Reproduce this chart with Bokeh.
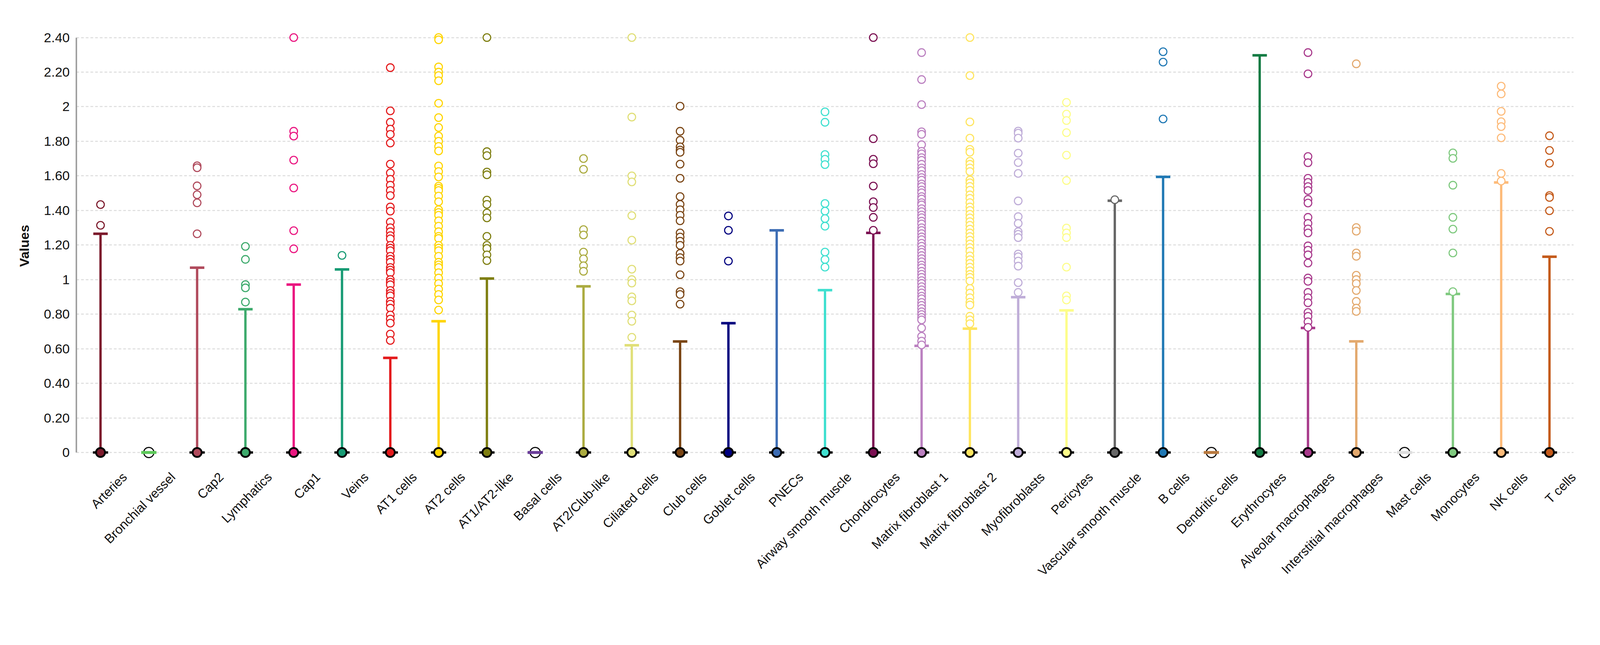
import math
from bokeh.plotting import figure
from bokeh.models import Range1d, FixedTicker, LinearAxis, ColumnDataSource
from bokeh.embed import file_html
from bokeh.resources import INLINE

categories = ["Arteries", "Bronchial vessel", "Cap2", "Lymphatics", "Cap1", "Veins",
              "AT1 cells", "AT2 cells", "AT1/AT2-like", "Basal cells", "AT2/Club-like",
              "Ciliated cells", "Club cells", "Goblet cells", "PNECs", "Airway smooth muscle",
              "Chondrocytes", "Matrix fibroblast 1", "Matrix fibroblast 2", "Myofibroblasts",
              "Pericytes", "Vascular smooth muscle", "B cells", "Dendritic cells", "Erythrocytes",
              "Alveolar macrophages", "Interstitial macrophages", "Mast cells", "Monocytes",
              "NK cells", "T cells"]

colors = ["#7c1a2c", "#5dc95a", "#b04a5c", "#3daa6c", "#ea1680", "#179b74",
          "#e41a1c", "#ffd500", "#7e7e10", "#6a3d9a", "#abab40",
          "#e0df78", "#7a4514", "#00007f", "#3d6db4", "#40e0d0",
          "#7b1052", "#bb80c0", "#ffe560", "#bfadd8",
          "#fdfd8a", "#666666", "#1f78b4", "#b8793e", "#137b43",
          "#a8398b", "#e3a96e", "#dddddd", "#7fc97f",
          "#fdbb7a", "#c45a1a"]

upper_whisker = [1.265, 0.0, 1.069, 0.829, 0.971, 1.059,
                 0.547, 0.759, 1.006, 0.0, 0.961,
                 0.620, 0.642, 0.748, 1.285, 0.939,
                 1.270, 0.617, 0.716, 0.898,
                 0.822, 1.456, 1.594, 0.0, 2.297,
                 0.720, 0.643, 0.0, 0.917,
                 1.562, 1.132]

out_arteries = [1.434, 1.314]
out_bronchial = []
out_cap2 = [1.658, 1.647, 1.542, 1.491, 1.444, 1.265]
out_lymphatics = [1.192, 1.117, 0.971, 0.952, 0.870]
out_cap1 = [2.40, 1.858, 1.830, 1.691, 1.530, 1.283, 1.178]
out_veins = [1.140]
out_at1 = [2.226, 1.976, 1.910, 1.870, 1.840, 1.790, 1.668, 1.617, 1.580, 1.546, 1.515,
           1.486, 1.420, 1.396, 1.333, 1.300, 1.277, 1.254, 1.236, 1.198, 1.182, 1.167,
           1.135, 1.118, 1.100, 1.070, 1.055, 1.040, 1.000, 0.985, 0.970, 0.937, 0.920,
           0.906, 0.874, 0.858, 0.835, 0.795, 0.772, 0.748, 0.685, 0.648]
out_at2 = [2.400, 2.387, 2.230, 2.200, 2.180, 2.150, 2.020, 1.937, 1.880, 1.830, 1.800,
           1.770, 1.744, 1.657, 1.625, 1.594, 1.540, 1.528, 1.515, 1.483, 1.450, 1.404,
           1.388, 1.372, 1.340, 1.309, 1.277, 1.250, 1.238, 1.198, 1.182, 1.167, 1.135,
           1.100, 1.085, 1.070, 1.040, 1.009, 0.977, 0.945, 0.914, 0.882, 0.824]
out_at1at2 = [2.400, 1.740, 1.717, 1.622, 1.606, 1.460, 1.435, 1.385, 1.357, 1.250,
              1.198, 1.180, 1.143, 1.110]
out_basal = []
out_at2club = [1.700, 1.638, 1.289, 1.258, 1.159, 1.120, 1.080, 1.048]
out_ciliated = [2.400, 1.940, 1.600, 1.565, 1.370, 1.228, 1.060, 1.000, 0.980, 0.900,
                0.877, 0.795, 0.759, 0.666]
out_club = [2.003, 1.858, 1.806, 1.768, 1.749, 1.736, 1.668, 1.586, 1.480, 1.435, 1.404,
            1.372, 1.340, 1.270, 1.246, 1.222, 1.198, 1.151, 1.127, 1.107, 1.028, 0.930,
            0.914, 0.858]
out_goblet = [1.368, 1.285, 1.107]
out_pnecs = []
out_asm = [1.970, 1.910, 1.723, 1.696, 1.665, 1.440, 1.396, 1.353, 1.309, 1.159, 1.116, 1.072]
out_chondro = [2.400, 1.815, 1.696, 1.670, 1.541, 1.450, 1.417, 1.360, 1.285]
out_mf1 = [2.313, 2.157, 2.012, 1.855, 1.840, 1.780, 1.742, 1.727, 1.705, 1.690, 1.667,
           1.646, 1.630, 1.608, 1.590, 1.575, 1.553, 1.538, 1.518, 1.502, 1.480, 1.466,
           1.445, 1.432, 1.410, 1.393, 1.374, 1.358, 1.338, 1.322, 1.300, 1.284, 1.266,
           1.247, 1.231, 1.210, 1.193, 1.174, 1.158, 1.139, 1.121, 1.103, 1.084, 1.068,
           1.048, 1.031, 1.013, 0.994, 0.978, 0.959, 0.941, 0.923, 0.904, 0.889, 0.868,
           0.851, 0.833, 0.814, 0.798, 0.781, 0.767, 0.720, 0.672, 0.644, 0.622]
out_mf2 = [2.400, 2.180, 1.912, 1.818, 1.753, 1.737, 1.684, 1.667, 1.646, 1.625, 1.576,
           1.560, 1.539, 1.517, 1.490, 1.470, 1.445, 1.420, 1.400, 1.378, 1.357, 1.335,
           1.314, 1.292, 1.270, 1.249, 1.228, 1.206, 1.185, 1.164, 1.137, 1.115, 1.094,
           1.072, 1.051, 1.030, 1.013, 0.992, 0.949, 0.922, 0.895, 0.869, 0.853, 0.788,
           0.767, 0.745]
out_myofib = [1.859, 1.847, 1.818, 1.731, 1.677, 1.614, 1.455, 1.364, 1.325, 1.277, 1.262,
              1.243, 1.148, 1.132, 1.107, 1.078, 0.982, 0.926]
out_pericytes = [2.025, 1.957, 1.920, 1.850, 1.720, 1.573, 1.298, 1.270, 1.243, 1.072,
                 0.906, 0.882]
out_vsm = [1.462]
out_bcells = [2.318, 2.258, 1.929]
out_dendritic = []
out_erythro = []
out_alvmac = [2.313, 2.190, 1.712, 1.676, 1.586, 1.562, 1.538, 1.515, 1.464, 1.443, 1.360,
              1.325, 1.293, 1.270, 1.195, 1.170, 1.143, 1.096, 1.009, 0.990, 0.926, 0.895,
              0.866, 0.810, 0.787, 0.756, 0.724]
out_intmac = [2.248, 1.301, 1.280, 1.154, 1.135, 1.025, 1.000, 0.977, 0.937, 0.874, 0.835, 0.816]
out_mast = []
out_mono = [1.733, 1.701, 1.546, 1.360, 1.292, 1.154, 0.930]
out_nk = [2.119, 2.074, 1.973, 1.913, 1.885, 1.820, 1.614, 1.570]
out_tcells = [1.832, 1.747, 1.673, 1.486, 1.475, 1.398, 1.279]

y_ticks = [0, 0.2, 0.4, 0.6, 0.8, 1, 1.2, 1.4, 1.6, 1.8, 2, 2.2, 2.4]
y_tick_labels = ["0", "0.20", "0.40", "0.60", "0.80", "1", "1.20", "1.40", "1.60",
                 "1.80", "2", "2.20", "2.40"]

outliers = [out_arteries, out_bronchial, out_cap2, out_lymphatics, out_cap1, out_veins,
            out_at1, out_at2, out_at1at2, out_basal, out_at2club, out_ciliated, out_club,
            out_goblet, out_pnecs, out_asm, out_chondro, out_mf1, out_mf2, out_myofib,
            out_pericytes, out_vsm, out_bcells, out_dendritic, out_erythro, out_alvmac,
            out_intmac, out_mast, out_mono, out_nk, out_tcells]

FONT = "Liberation Sans"
n = len(categories)
xs = [i + 0.5 for i in range(n)]

p = figure(width=4060, height=1500, output_backend="svg", toolbar_location=None,
           x_range=Range1d(0, n), y_range=Range1d(-0.07, 2.46),
           x_axis_type=None,
           min_border_left=195, min_border_top=69, min_border_right=32, min_border_bottom=312)
p.outline_line_color = None
p.background_fill_color = "white"
p.border_fill_color = "white"

# y axis
yax = p.yaxis[0]
yax.ticker = FixedTicker(ticks=y_ticks)
yax.major_label_overrides = {t: l for t, l in zip(y_ticks, y_tick_labels)}
yax.bounds = (0, 2.4)
yax.axis_line_color = "#9a9a9a"
yax.axis_line_width = 3.7
yax.major_tick_line_color = None
yax.minor_tick_line_color = None
yax.major_label_text_font = FONT
yax.major_label_text_font_size = "34px"
yax.major_label_text_color = "#111111"
yax.major_label_standoff = 11
yax.axis_label = "Values"
yax.axis_label_text_font = FONT
yax.axis_label_text_font_size = "34px"
yax.axis_label_text_font_style = "bold"
yax.axis_label_text_color = "#111111"
yax.axis_label_standoff = 28

p.ygrid.ticker = FixedTicker(ticks=y_ticks)
p.ygrid.grid_line_color = "#dcdcdc"
p.ygrid.grid_line_width = 2.3
p.ygrid.grid_line_dash = "7 5"

# x labels axis (labels sit half a category to the right)
p.extra_x_ranges = {"lab": Range1d(-0.5, n - 0.5)}
xax = LinearAxis(x_range_name="lab", ticker=FixedTicker(ticks=xs),
                 major_label_overrides={x: c for x, c in zip(xs, categories)})
xax.axis_line_color = None
xax.major_tick_line_color = None
xax.minor_tick_line_color = None
xax.major_label_orientation = math.pi / 4
xax.major_label_text_font = FONT
xax.major_label_text_font_size = "33px"
xax.major_label_text_color = "#111111"
xax.major_label_standoff = 20
p.add_layout(xax, "below")

# whiskers
wx = [x for x, u in zip(xs, upper_whisker) if u > 0]
wu = [u for u in upper_whisker if u > 0]
wc = [c for c, u in zip(colors, upper_whisker) if u > 0]
wsrc = ColumnDataSource(dict(x=wx, top=wu, color=wc, base=[0] * len(wx)))
p.segment(x0="x", y0="base", x1="x", y1="top", source=wsrc, line_color="color", line_width=6)
p.rect(x="x", y="top", width=37, height=6.5, width_units="screen", height_units="screen",
       source=wsrc, fill_color="color", line_color=None)

# outliers
ox, oy, oc = [], [], []
for x, c, vals in zip(xs, colors, outliers):
    for v in vals:
        ox.append(x)
        oy.append(v)
        oc.append(c)
osrc = ColumnDataSource(dict(x=ox, y=oy, color=oc))
p.scatter(x="x", y="y", source=osrc, marker="circle", size=19.5, fill_color="white",
          line_color="color", line_width=2.8)

# zero markers for categories with a whisker
p.rect(x="x", y="base", width=39, height=6, width_units="screen", height_units="screen",
       source=wsrc, fill_color="black", line_color=None)
p.scatter(x="x", y="base", source=wsrc, marker="circle", size=23, fill_color="color",
          line_color="black", line_width=4.6)

# zero markers for all-zero categories
zx = [x for x, u in zip(xs, upper_whisker) if u == 0]
zc = [c for c, u in zip(colors, upper_whisker) if u == 0]
zsrc = ColumnDataSource(dict(x=zx, color=zc, base=[0] * len(zx)))
p.scatter(x="x", y="base", source=zsrc, marker="circle", size=26, fill_color="white",
          line_color="black", line_width=2.8)
p.rect(x="x", y="base", width=39, height=7.5, width_units="screen", height_units="screen",
       source=zsrc, fill_color="color", line_color=None)

open("out.html", "w").write(file_html(p, INLINE))
